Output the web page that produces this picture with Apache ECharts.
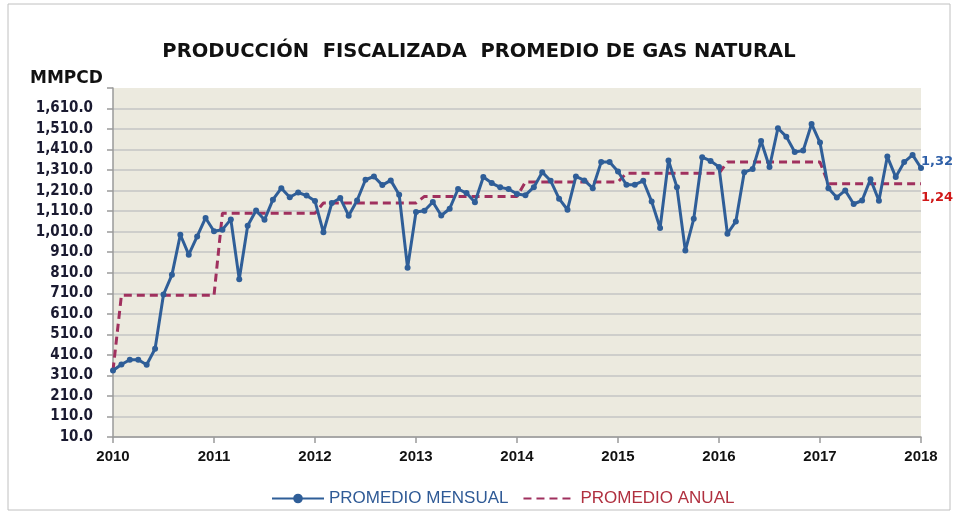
<!DOCTYPE html>
<html><head><meta charset="utf-8">
<script src="https://cdn.jsdelivr.net/npm/echarts@6/dist/echarts.min.js"></script>
<style>html,body{margin:0;padding:0;background:#fff}#c{width:958px;height:515px}</style>
</head><body><div id="c"></div>
<script>
const startYear = 2010;
const yearLabels = ['2010','2011','2012','2013','2014','2015','2016','2017','2018'];
const seriesNames = ['PROMEDIO MENSUAL', 'PROMEDIO ANUAL'];
const monthly = [
  334, 363, 386, 386, 362, 440, 704, 800, 995, 898, 987, 1077,
  1012, 1020, 1070, 778, 1039, 1113, 1068, 1166, 1222, 1178, 1201, 1186,
  1159, 1007, 1150, 1174, 1088, 1162, 1263, 1279, 1237, 1260, 1190, 834,
  1106, 1112, 1155, 1089, 1122, 1218, 1198, 1153, 1276, 1247, 1226, 1218,
  1194, 1188, 1227, 1300, 1258, 1171, 1117, 1279, 1260, 1222, 1349, 1349,
  1303, 1239, 1239, 1258, 1157, 1028, 1357, 1227, 918, 1073, 1373, 1355,
  1325, 1000, 1060, 1300, 1315, 1452, 1325, 1514, 1473, 1398, 1405, 1535,
  1444, 1222, 1177, 1211, 1145, 1162, 1266, 1161, 1376, 1276, 1349, 1384,
  1320
];
const annualLevels = [700, 1100, 1150, 1182, 1252, 1295, 1349, 1243];
const annualFirst = 334;
const annual = [annualFirst];
annualLevels.forEach(v => { for (let k = 0; k < 12; k++) annual.push(v); });

const yMin = 10, yMax = 1710, yStep = 100;

const categories = monthly.map((_, i) => {
  const y = startYear + Math.floor(i / 12);
  const m = (i % 12) + 1;
  return y + '-' + String(m).padStart(2, '0');
});

function fmtEnd(v) { return (v / 1000).toFixed(2).replace('.', ','); }

const chart = echarts.init(document.getElementById('c'), null, {renderer: 'canvas'});
chart.setOption({
  animation: false,
  backgroundColor: '#ffffff',
  title: {
    text: 'PRODUCCIÓN  FISCALIZADA  PROMEDIO DE GAS NATURAL',
    left: 'center', top: 37,
    textStyle: {fontFamily: 'DejaVu Sans', fontWeight: 'bold', fontSize: 19.5, color: '#111'}
  },
  graphic: [
    {type: 'rect', shape: {x: 8, y: 4, width: 942, height: 506}, style: {fill: 'none', stroke: '#c0c0c0', lineWidth: 1}, silent: true, z: -10},
    {type: 'text', left: 30, top: 70, style: {text: 'MMPCD', font: 'bold 17px "DejaVu Sans"', fill: '#111'}}
  ],
  legend: {
    left: 266, top: 485,
    itemWidth: 52, itemHeight: 12, itemGap: 14,
    textStyle: {fontFamily: 'Liberation Sans', fontSize: 17},
    data: [
      {name: seriesNames[0], textStyle: {color: '#2F5A96'}},
      {name: seriesNames[1], textStyle: {color: '#B0303F'}, itemStyle: {opacity: 0}}
    ]
  },
  grid: {left: 113, right: 37, top: 88, bottom: 78, show: true, backgroundColor: '#ECEADF', borderWidth: 0},
  xAxis: {
    type: 'category', data: categories, boundaryGap: false,
    axisLine: {lineStyle: {color: '#9a9a9a', width: 1.5}},
    axisTick: {interval: 11, length: 6, lineStyle: {color: '#9a9a9a', width: 1.5}},
    axisLabel: {
      interval: 11, margin: 12,
      formatter: v => v.slice(0, 4),
      fontFamily: 'Liberation Sans', fontWeight: 'bold', fontSize: 15, color: '#111'
    },
    splitLine: {show: false}
  },
  yAxis: {
    type: 'value', min: yMin, max: yMax, interval: yStep,
    axisLine: {show: true, lineStyle: {color: '#9a9a9a', width: 1.5}},
    axisTick: {show: true, length: 6, lineStyle: {color: '#9a9a9a', width: 1.5}},
    axisLabel: {
      margin: 20,
      formatter: v => v >= yMax ? '' : v.toLocaleString('en-US', {minimumFractionDigits: 1, maximumFractionDigits: 1}),
      fontFamily: 'DejaVu Sans Condensed', fontWeight: 'bold', fontSize: 15, color: '#1a1a30'
    },
    splitLine: {show: true, showMaxLine: false, lineStyle: {color: '#c4c4c4', width: 1.5}}
  },
  series: [
    {
      name: seriesNames[1], type: 'line', data: annual,
      symbol: 'none', z: 2,
      lineStyle: {color: '#A0305E', width: 3, type: [8, 5]},
      itemStyle: {color: '#A0305E'},
      endLabel: {show: true, formatter: p => fmtEnd(p.value), offset: [-2, 14], distance: 2,
        fontFamily: 'DejaVu Sans', fontWeight: 'bold', fontSize: 13, color: '#D01818'}
    },
    {
      name: seriesNames[0], type: 'line', data: monthly,
      symbol: 'circle', symbolSize: 6, showAllSymbol: true, z: 3,
      lineStyle: {color: '#2F5E98', width: 3},
      itemStyle: {color: '#2F5E98'},
      endLabel: {show: true, formatter: p => fmtEnd(p.value), offset: [-2, -6], distance: 2,
        fontFamily: 'DejaVu Sans', fontWeight: 'bold', fontSize: 13, color: '#2E5FA8'}
    }
  ]
});
</script>
</body></html>
